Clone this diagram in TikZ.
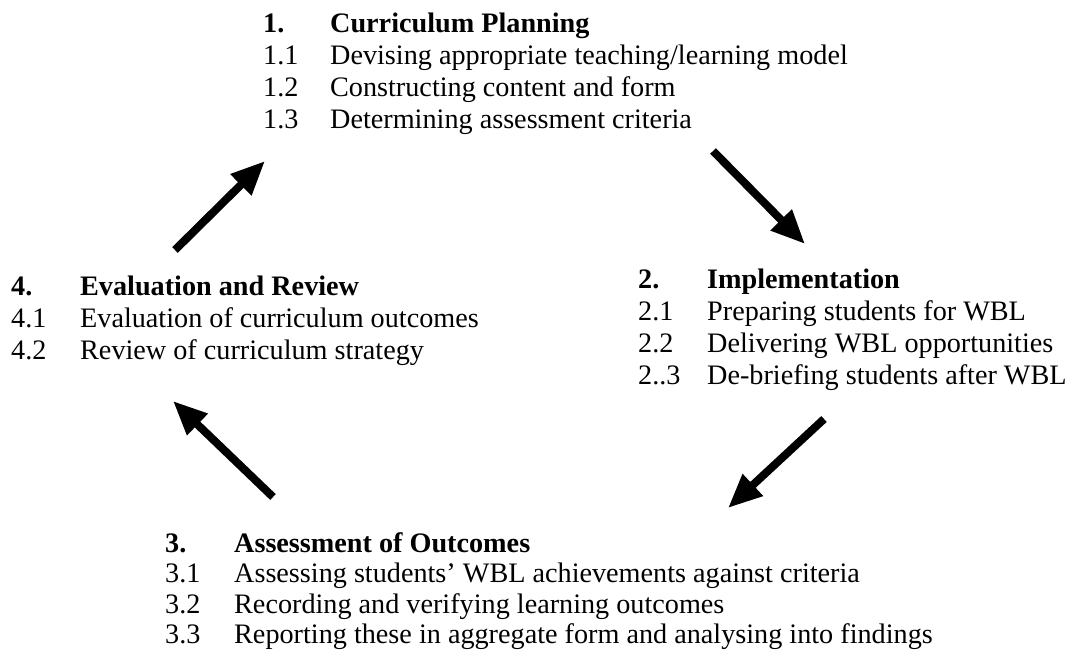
\documentclass[tikz,border=0pt]{standalone}
\usepackage{fontspec}
\setmainfont{Liberation Serif}
\usetikzlibrary{arrows.meta}
\definecolor{ink}{HTML}{000000}

\newcommand{\stagefont}{\fontsize{28.2}{32}\selectfont}

\begin{document}
\begin{tikzpicture}[
  x=1pt, y=-1pt,
  stage/.style={
    anchor=base west, inner sep=0pt, align=left,
    font=\stagefont, text=ink
  },
  cycle/.style={-{Triangle[length=34pt,width=28pt]}, line width=8pt, draw=ink}
]
\useasboundingbox (0,0) rectangle (1068,650);

\node[stage] (planning) at (263,33) {%
  \begin{tabular}[t]{@{}p{67pt}@{}l@{}}
  \textbf{1.} & \textbf{Curriculum Planning}\\
  1.1 & Devising appropriate teaching/learning model\\
  1.2 & Constructing content and form\\
  1.3 & Determining assessment criteria
  \end{tabular}};

\node[stage] (implement) at (638,288) {%
  \begin{tabular}[t]{@{}p{69pt}@{}l@{}}
  \textbf{2.} & \textbf{Implementation}\\
  2.1 & Preparing students for WBL\\
  2.2 & Delivering WBL opportunities\\
  2..3 & De-briefing students after WBL
  \end{tabular}};

\node[stage, font=\fontsize{28.2}{30.5}\selectfont] (assess) at (165,552) {%
  \begin{tabular}[t]{@{}p{69pt}@{}l@{}}
  \textbf{3.} & \textbf{Assessment of Outcomes}\\
  3.1 & Assessing students’ WBL achievements against criteria\\
  3.2 & Recording and verifying learning outcomes\\
  3.3 & Reporting these in aggregate form and analysing into findings
  \end{tabular}};

\node[stage] (review) at (11,295) {%
  \begin{tabular}[t]{@{}p{69pt}@{}l@{}}
  \textbf{4.} & \textbf{Evaluation and Review}\\
  4.1 & Evaluation of curriculum outcomes\\
  4.2 & Review of curriculum strategy
  \end{tabular}};

% arrow ends
\coordinate (a1s) at (175,250);
\coordinate (a1e) at (265,161);
\coordinate (a2s) at (713,151);
\coordinate (a2e) at (805,244);
\coordinate (a3s) at (824,419);
\coordinate (a3e) at (728,508);
\coordinate (a4s) at (273,497);
\coordinate (a4e) at (173,401);

\draw[cycle] (a1s) -- (a1e);
\draw[cycle] (a2s) -- (a2e);
\draw[cycle] (a3s) -- (a3e);
\draw[cycle] (a4s) -- (a4e);

\end{tikzpicture}
\end{document}
